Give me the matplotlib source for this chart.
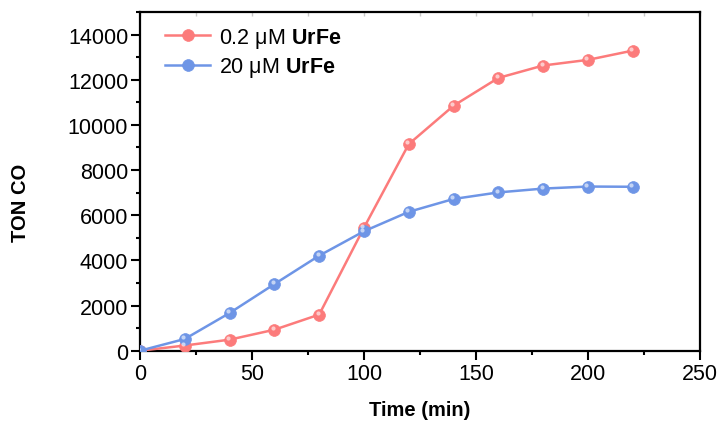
import matplotlib
matplotlib.use("Agg")
import matplotlib.pyplot as plt
import matplotlib.transforms as mtransforms
from matplotlib.ticker import MultipleLocator, NullFormatter

plt.rcParams['font.family'] = ['Liberation Sans', 'DejaVu Sans']
plt.rcParams['mathtext.fontset'] = 'custom'
plt.rcParams['mathtext.rm'] = 'Liberation Sans'
plt.rcParams['mathtext.bf'] = 'Liberation Sans:bold'

# sampling times (min)
time_min = [0, 20, 40, 60, 80, 100, 120, 140, 160, 180, 200, 220]
# turnover numbers for CO at the two catalyst loadings
ton_low = [0, 230, 490, 930, 1600, 5450, 9150, 10850, 12080, 12630, 12880, 13290]
ton_high = [0, 520, 1670, 2950, 4210, 5290, 6150, 6720, 7010, 7180, 7270, 7260]

series_labels = [r'0.2 μM $\mathbf{UrFe}$', r'20 μM $\mathbf{UrFe}$']
red = '#FC7B7B'
blue = '#6E95E6'

fig = plt.figure(figsize=(7.22, 4.27), dpi=100)
ax = fig.add_axes([0.1939, 0.1763, 0.7756, 0.7933])

for vals, col, lab in [(ton_low, red, series_labels[0]), (ton_high, blue, series_labels[1])]:
    ax.plot(time_min, vals, color=col, lw=1.8, marker='o', ms=8.5,
            markerfacecolor=col, markeredgecolor=col, markeredgewidth=0.5,
            label=lab, zorder=3)
    # small soft glint so the dots read as shaded balls
    glint = ax.transData + mtransforms.ScaledTranslation(-1.2 / 72, 1.2 / 72, fig.dpi_scale_trans)
    ax.plot(time_min, vals, ls='none', marker='o', ms=3, color='white',
            markeredgewidth=0, alpha=0.6, transform=glint, zorder=4)

ax.set_xlim(0, 250)
ax.set_ylim(0, 15000)
ax.xaxis.set_major_locator(MultipleLocator(50))
ax.xaxis.set_minor_locator(MultipleLocator(25))
ax.set_yticks([0, 2000, 4000, 6000, 8000, 10000, 12000, 14000])
ax.yaxis.set_minor_locator(MultipleLocator(1000))

for sp in ax.spines.values():
    sp.set_linewidth(1.6)

ax.tick_params(which='major', direction='out', length=6.5, width=1.5, labelsize=15.5, pad=2)
ax.tick_params(which='minor', direction='out', length=3, width=1.5)

# faint inward ticks along the top edge
top = ax.secondary_xaxis('top')
top.xaxis.set_major_locator(MultipleLocator(50))
top.xaxis.set_minor_locator(MultipleLocator(25))
top.xaxis.set_major_formatter(NullFormatter())
top.tick_params(which='both', direction='in', length=3, width=1, color='#c8c8c8')
top.spines['top'].set_visible(False)

fig.text(420 / 722, 1 - 411 / 427, 'Time (min)', fontsize=14.5, fontweight='bold',
         ha='center', va='center')
fig.text(20 / 722, 1 - 203 / 427, 'TON CO', fontsize=14.5, fontweight='bold',
         rotation=90, ha='center', va='center')

ax.legend(loc='upper left', bbox_to_anchor=(0.02, 1.0), frameon=False, fontsize=15.5,
          handlelength=2.1, handletextpad=0.4, labelspacing=0.25, borderaxespad=0.25)

fig.savefig('out.png', dpi=100)
